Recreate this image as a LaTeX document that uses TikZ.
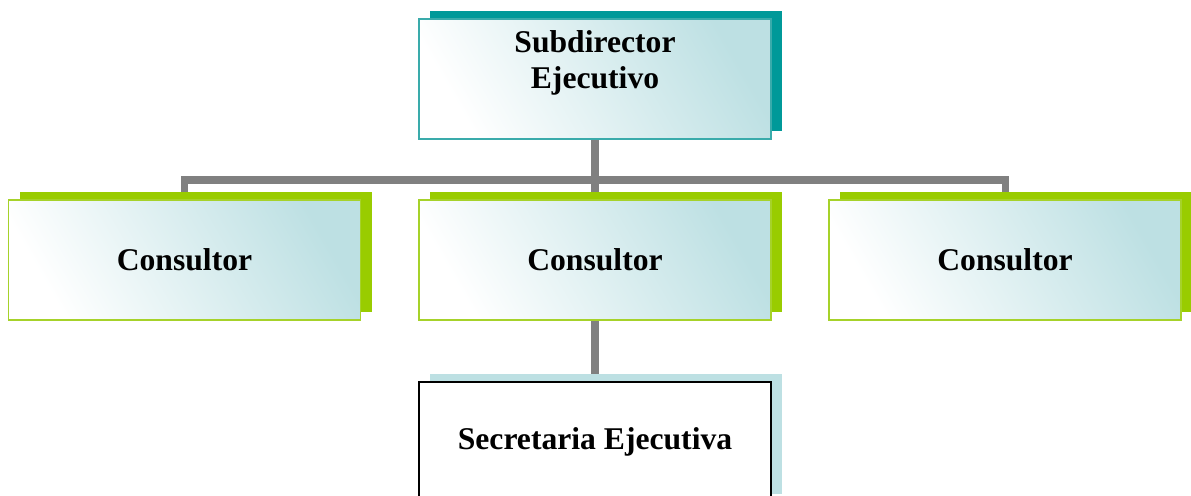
\documentclass[tikz,border=0pt]{standalone}
\usepackage{fontspec}
\setmainfont{Liberation Serif}
\usetikzlibrary{positioning, shadows, backgrounds}

\definecolor{tealdark}{RGB}{0,153,153}
\definecolor{tealline}{RGB}{58,171,171}
\definecolor{limegreen}{RGB}{153,204,0}
\definecolor{limeline}{RGB}{166,210,42}
\definecolor{tint}{RGB}{189,224,227}
\definecolor{linkgray}{RGB}{128,128,128}

\begin{document}
\begin{tikzpicture}[
    box/.style={rectangle, minimum width=7.04cm, minimum height=2.4cm, font=\fontsize{18}{21}\selectfont\bfseries,
        align=center, left color=white, right color=tint, shading angle=120, line width=1.1pt},
    subbox/.style={box, draw=tealline, text depth=0.78cm,
        drop shadow={shadow xshift=0.22cm, shadow yshift=0.16cm, fill=tealdark, opacity=1}},
    conbox/.style={box, draw=limeline,
        drop shadow={shadow xshift=0.22cm, shadow yshift=0.16cm, fill=limegreen, opacity=1}},
    secbox/.style={rectangle, minimum width=7.04cm, minimum height=2.4cm, font=\fontsize{18}{21}\selectfont\bfseries,
        fill=white, draw=black, line width=1.1pt,
        drop shadow={shadow xshift=0.22cm, shadow yshift=0.16cm, fill=tint, opacity=1}},
    link/.style={draw=linkgray, line width=4pt}]
    \useasboundingbox (0,0) rectangle (23.82,-9.9);
    \node[subbox] (sub) at (11.9,-1.58) {Subdirector\\Ejecutivo};
    \node[conbox] (con1) at (3.69,-5.2)  {Consultor};
    \node[conbox] (con2) at (11.9,-5.2)  {Consultor};
    \node[conbox] (con3) at (20.1,-5.2)  {Consultor};
    \node[secbox] (sec)  at (11.9,-8.84) {Secretaria Ejecutiva};
    \begin{scope}[on background layer]
    	\coordinate (bus) at (11.9,-3.6);
    	\draw[link] (sub.south) -- (bus);
    	\draw[link] (bus) -| (con1.north);
    	\draw[link] (bus) -| (con3.north);
    	\draw[link] (bus) -- (con2.north);
    	\draw[link] (con2.south) -- (sec.north);
    \end{scope}
\end{tikzpicture}
\end{document}
